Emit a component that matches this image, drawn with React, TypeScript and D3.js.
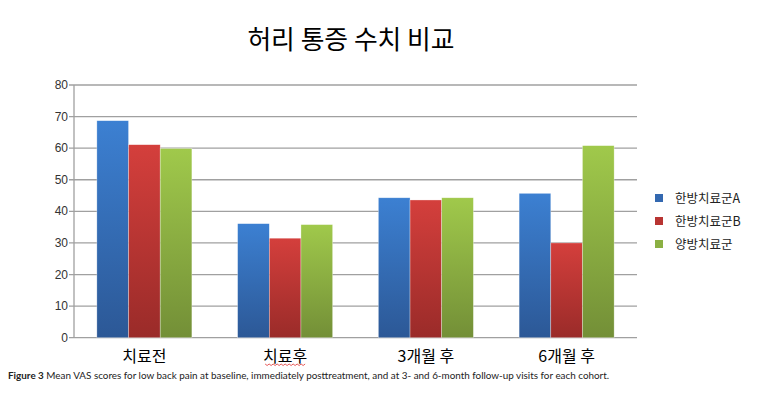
import React from "react";
import * as d3 from "d3";

const categories = ["치료전", "치료후", "3개월 후", "6개월 후"];
const seriesNames = ["한방치료군A", "한방치료군B", "양방치료군"];
const seriesA = [68.7, 36.1, 44.3, 45.7];
const seriesB = [61.1, 31.5, 43.6, 30.0];
const seriesC = [59.9, 35.8, 44.3, 60.8];
const yTicks = [0, 10, 20, 30, 40, 50, 60, 70, 80];
const title = "허리 통증 수치 비교";

const W = 766, H = 398;
const plot = { left: 74, right: 637, top: 85, bottom: 337.7 };
const colors = [
  { top: "#3c80d2", bottom: "#2c5896", key: "#3368b0" },
  { top: "#d43f3c", bottom: "#9a2b29", key: "#b83432" },
  { top: "#a0c94b", bottom: "#738f37", key: "#8bb043" },
];

export default function App() {
  const x0 = d3.scaleBand().domain(categories).range([plot.left, plot.right]).paddingInner(0.325).paddingOuter(0.1625);
  const x1 = d3.scaleBand().domain(seriesNames).range([0, x0.bandwidth()]);
  const y = d3.scaleLinear().domain([0, 80]).range([plot.bottom, plot.top]);
  const series = [seriesA, seriesB, seriesC];

  const squigX0 = (x0("치료후") ?? 0) + x0.bandwidth() / 2 - 20;
  const squig = d3.range(0, 41, 2).map((d, i) => [squigX0 + d, 364 + (i % 2 === 0 ? 0 : 1.5)] as [number, number]);

  return (
    <svg width={W} height={H} style={{ position: "absolute", left: 0, top: 0, background: "#fff" }}>
      <defs>
        {colors.map((c, i) => (
          <linearGradient key={i} id={`g${i}`} x1="0" y1="0" x2="0" y2="1">
            <stop offset="0" stopColor={c.top} />
            <stop offset="1" stopColor={c.bottom} />
          </linearGradient>
        ))}
      </defs>
      <rect x={0} y={0} width={W} height={H} fill="#fff" />
      <text x={351} y={49} textAnchor="middle" fontFamily="'Noto Sans CJK KR', sans-serif" fontSize={25.8} fill="#000">{title}</text>
      {yTicks.map((t) => (
        <g key={t}>
          <line x1={plot.left - 5} x2={plot.right} y1={y(t)} y2={y(t)} stroke="#a0a0a0" strokeWidth={1.3} />
          <text x={plot.left - 6} y={y(t) + 4} textAnchor="end" fontFamily="'Liberation Sans', Arial, sans-serif" fontSize={12} fill="#333">{t}</text>
        </g>
      ))}
      <line x1={plot.left} x2={plot.left} y1={plot.top} y2={plot.bottom} stroke="#a0a0a0" strokeWidth={1.3} />
      {categories.map((c, ci) => (
        <g key={c}>
          {series.map((s, si) => (
            <rect key={si} x={(x0(c) ?? 0) + (x1(seriesNames[si]) ?? 0)} y={y(s[ci])} width={x1.bandwidth()} height={plot.bottom - y(s[ci])} fill={`url(#g${si})`} stroke="#ffffff" strokeOpacity={0.5} strokeWidth={0.6} />
          ))}
          <text x={(x0(c) ?? 0) + x0.bandwidth() / 2} y={362} textAnchor="middle" fontFamily="'Noto Sans CJK KR', sans-serif" fontSize={16} fill="#000">{c}</text>
        </g>
      ))}
      <path d={d3.line()(squig) ?? ""} fill="none" stroke="#e03030" strokeWidth={0.8} />
      {seriesNames.map((n, i) => (
        <g key={n} transform={`translate(655, ${198 + i * 23})`}>
          <rect x={0} y={-4} width={8} height={8} fill={colors[i].key} />
          <text x={20} y={5} fontFamily="'Noto Sans CJK KR', sans-serif" fontSize={12.5} fill="#222">{n}</text>
        </g>
      ))}
      <text x={8} y={379} fontFamily="Lato, 'Open Sans', sans-serif" fontSize={9.9} fill="#222">
        <tspan fontWeight="bold">Figure 3</tspan>
        <tspan> Mean VAS scores for low back pain at baseline, immediately posttreatment, and at 3- and 6-month follow-up visits for each cohort.</tspan>
      </text>
    </svg>
  );
}
